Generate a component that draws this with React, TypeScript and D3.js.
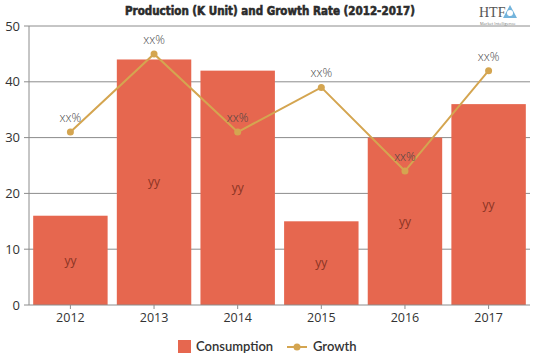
import React from "react";
import * as d3 from "d3";

const years = ["2012", "2013", "2014", "2015", "2016", "2017"];
const consumption = [16, 44, 42, 15, 30, 36];
const growth = [31, 45, 31, 39, 24, 42];
const barLabels = ["yy", "yy", "yy", "yy", "yy", "yy"];
const growthLabels = ["xx%", "xx%", "xx%", "xx%", "xx%", "xx%"];
const yTicks = [0, 10, 20, 30, 40, 50];
const title = "Production (K Unit) and Growth Rate (2012-2017)";

const W = 539;
const H = 359;
const left = 29;
const right = 530;
const top = 26;
const bottom = 305;

const BAR = "#E6674F";
const LINE = "#D4A550";

export default function App() {
  const x = d3.scaleBand<string>().domain(years).range([left, right]).paddingInner(0.11).paddingOuter(0.05);
  const y = d3.scaleLinear().domain([0, 50]).range([bottom, top]);
  const cx = (d: string) => (x(d) as number) + x.bandwidth() / 2;
  const line = d3
    .line<number>()
    .x((_, i) => cx(years[i]))
    .y((d) => y(d));

  return (
    <div style={{ position: "absolute", left: 0, top: 0 }}>
      <svg width={W} height={H} style={{ display: "block", fontFamily: "'Open Sans', sans-serif" }}>
        <rect width={W} height={H} fill="#fff" />
        {/* gridlines */}
        {yTicks.slice(1).map((t) => (
          <line key={t} x1={left} x2={right} y1={y(t)} y2={y(t)} stroke="#8c8c8c" strokeWidth={1} />
        ))}
        {/* y axis */}
        <line x1={left} x2={left} y1={top} y2={bottom} stroke="#8c8c8c" />
        {yTicks.map((t) => (
          <g key={t}>
            <line x1={left - 5} x2={left} y1={y(t)} y2={y(t)} stroke="#8c8c8c" />
            <text x={left - 9} y={y(t)} dy="0.35em" textAnchor="end" fontSize={13} fill="#333">
              {t}
            </text>
          </g>
        ))}
        {/* bars */}
        {consumption.map((v, i) => (
          <rect key={i} x={x(years[i])} y={y(v)} width={x.bandwidth()} height={bottom - y(v)} fill={BAR} />
        ))}
        {consumption.map((v, i) => (
          <text key={i} x={cx(years[i])} y={y(v / 2)} dy="0.35em" textAnchor="middle" fontSize={12} fill="#8b3424">
            {barLabels[i]}
          </text>
        ))}
        {/* x axis */}
        <line x1={left} x2={right} y1={bottom} y2={bottom} stroke="#8c8c8c" />
        {years.map((yr) => (
          <g key={yr}>
            <line x1={cx(yr)} x2={cx(yr)} y1={bottom} y2={bottom + 4} stroke="#8c8c8c" />
            <text x={cx(yr)} y={bottom + 17} textAnchor="middle" fontSize={12.5} fill="#333">
              {yr}
            </text>
          </g>
        ))}
        {/* growth line */}
        <path d={line(growth) || ""} fill="none" stroke={LINE} strokeWidth={2} />
        {growth.map((v, i) => (
          <circle key={i} cx={cx(years[i])} cy={y(v)} r={3.5} fill={LINE} />
        ))}
        {growth.map((v, i) => (
          <text key={i} x={cx(years[i])} y={y(v) - 10} textAnchor="middle" fontSize={12} fill="#444" fontWeight={300}>
            {growthLabels[i]}
          </text>
        ))}
        {/* title */}
        <text
          x={270}
          y={15}
          textAnchor="middle"
          fontSize={13}
          fontWeight="bold"
          fill="#2b2b2b"
          stroke="#2b2b2b"
          strokeWidth={0.6}
          style={{ fontFamily: "'DejaVu Sans Condensed', 'DejaVu Sans', sans-serif" }}
          textLength={290}
          lengthAdjust="spacingAndGlyphs"
        >
          {title}
        </text>
        {/* logo */}
        <g>
          <text x={479} y={17} fontSize={14} fill="#555" style={{ fontFamily: "'Liberation Serif', serif" }}>
            HTF
          </text>
          <path d="M510,5 L503,18 L517,18 Z" fill="#5aa7d6" opacity={0.85} />
          <circle cx={510} cy={13} r={3} fill="#fff" />
          <text x={480} y={25} fontSize={4} fill="#777">
            Market Intelligence
          </text>
        </g>
        {/* legend */}
        <rect x={178} y={340} width={13} height={13} fill={BAR} />
        <text x={196} y={351} fontSize={13} fontWeight={600} fill="#333" style={{ fontFamily: "Lato, sans-serif" }}>
          Consumption
        </text>
        <line x1={287} x2={307} y1={347} y2={347} stroke={LINE} strokeWidth={2} />
        <circle cx={297} cy={347} r={3.5} fill={LINE} />
        <text x={313} y={351} fontSize={13} fontWeight={600} fill="#333" style={{ fontFamily: "Lato, sans-serif" }}>
          Growth
        </text>
      </svg>
    </div>
  );
}
